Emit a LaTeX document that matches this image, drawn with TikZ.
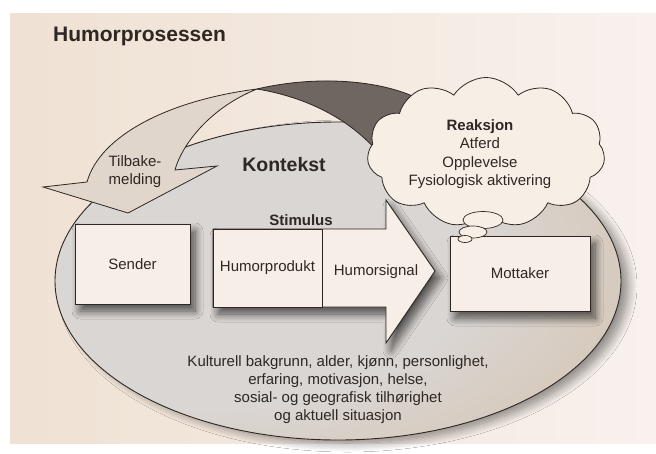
\documentclass[tikz,border=0pt]{standalone}
\usepackage{fontspec}
\setmainfont{Liberation Sans}
\usetikzlibrary{shapes.symbols,shadows.blur}
\definecolor{pagebg}{HTML}{EFE1D3}
\definecolor{pagebgR}{HTML}{F8F1ED}
\definecolor{ink}{HTML}{2E2724}
\definecolor{boxfill}{HTML}{F6EEE7}
\definecolor{arrowlight}{HTML}{E0D6CC}
\definecolor{banddark}{HTML}{6F6561}
\definecolor{ctxIn}{HTML}{DAD6D3}
\definecolor{ctxMid}{HTML}{D5C6B6}
\definecolor{ctxMidB}{HTML}{C2A892}
\definecolor{ctxOut}{HTML}{7C5E4A}
\definecolor{cloudfill}{HTML}{F7EEE6}
\pgfdeclareradialshading{ctxshade}{\pgfpoint{-18bp}{6bp}}{color(0bp)=(ctxIn); color(24bp)=(ctxIn); color(38bp)=(ctxMid); color(52bp)=(ctxMidB); color(68bp)=(ctxOut)}
\tikzset{
  inkline/.style={draw=ink, line width=0.9pt},
  boxnode/.style={inkline, fill=boxfill, inner sep=0pt},
  softshadow/.style={blur shadow={shadow xshift=5pt, shadow yshift=-7pt, shadow blur radius=8pt, shadow opacity=65, shadow blur steps=14}},
  lbl/.style={font=\fontsize{15}{18}\selectfont, text=ink, inner sep=0pt},
  blbl/.style={font=\bfseries\fontsize{15}{18}\selectfont, text=ink, inner sep=0pt},
}
\begin{document}
\begin{tikzpicture}[x=1pt,y=-1pt]
\useasboundingbox (0,0) rectangle (656,453);
% page
\fill[white] (0,0) rectangle (656,453);
\shade[left color=pagebg, right color=pagebgR] (10,13) rectangle (656,443);
% title
\node[anchor=base west, font=\bfseries\fontsize{21}{24}\selectfont, text=ink, inner sep=0pt] (title) at (53,41) {Humorprosessen};
% context ellipse
\path[blur shadow={shadow xshift=9pt, shadow yshift=-5pt, shadow blur radius=9pt, shadow opacity=45, shadow blur steps=14}]
  (338,281) ellipse [x radius=281, y radius=157];
\path[shading=ctxshade, draw=ink, line width=0.9pt] (338,281) ellipse [x radius=283, y radius=159];
% stimulus arrow
\path[softshadow, inkline, fill=boxfill]
  (213,229) -- (386,229) -- (386,200) -- (435,271) -- (386,343) -- (386,307) -- (213,307) -- cycle;
\node[boxnode, minimum width=109pt, minimum height=78pt] (prod) at (267.5,268) {};
\node[lbl] (prodtxt) at (prod.center) {Humorprodukt};
\node[lbl] (signal) at (376,272) {Humorsignal};
\node[blbl] (stim) at (301,220) {Stimulus};
% sender
\node[boxnode, softshadow, minimum width=115pt, minimum height=80pt] (sender) at (132.5,264) {};
\node[lbl] (sendertxt) at (sender.center) {Sender};
% mottaker
\node[boxnode, softshadow, minimum width=140pt, minimum height=75pt] (mott) at (520,273.5) {};
\node[lbl] (motttxt) at (mott.center) {Mottaker};
% feedback arrow (light)
\path[inkline, fill=arrowlight, line width=0.8pt]
  (257,89) .. controls (170,100) and (100,135) .. (87,182)
  -- (43,187) -- (128,213) -- (217,166) -- (175,170)
  .. controls (180,150) and (205,110) .. (257,89) -- cycle;
% dark band
\fill[banddark] (257,89) .. controls (320,74) and (395,80) .. (432,107)
  -- (376,150) .. controls (345,115) and (300,96) .. (257,89) -- cycle;
\draw[ink, line width=0.8pt] (257,89) .. controls (320,74) and (395,80) .. (432,107);
\draw[ink, line width=0.8pt] (257,89) .. controls (300,96) and (345,115) .. (376,150);
% cloud
\node[cloud, cloud puffs=11, cloud puff arc=115, aspect=2, draw=ink, line width=0.8pt, fill=cloudfill,
      minimum width=238pt, minimum height=150pt, inner sep=0pt] (cloud) at (486,152.5) {};
\node[align=center, font=\fontsize{15}{18.3}\selectfont, text=ink, inner sep=0pt] (reak) at (480,154)
  {\textbf{Reaksjon}\\Atferd\\Opplevelse\\Fysiologisk aktivering};
% thought bubbles
\draw[ink, line width=0.7pt, fill=cloudfill] (483,220) ellipse [x radius=20, y radius=8.5];
\draw[ink, line width=0.7pt, fill=cloudfill] (473,232) ellipse [x radius=14, y radius=6];
\draw[ink, line width=0.7pt, fill=cloudfill] (465,239) ellipse [x radius=7, y radius=3.5];
% labels
\node[font=\bfseries\fontsize{19.5}{22}\selectfont, text=ink, inner sep=0pt] (kont) at (284,165) {Kontekst};
\node[lbl, align=center] (tilb) at (135,172) {Tilbake-\\melding};
\node[lbl, align=center] (faktor) at (338,389.5)
  {Kulturell bakgrunn, alder, kjønn, personlighet,\\erfaring, motivasjon, helse,\\sosial- og geografisk tilhørighet\\og aktuell situasjon};
\end{tikzpicture}
\end{document}
